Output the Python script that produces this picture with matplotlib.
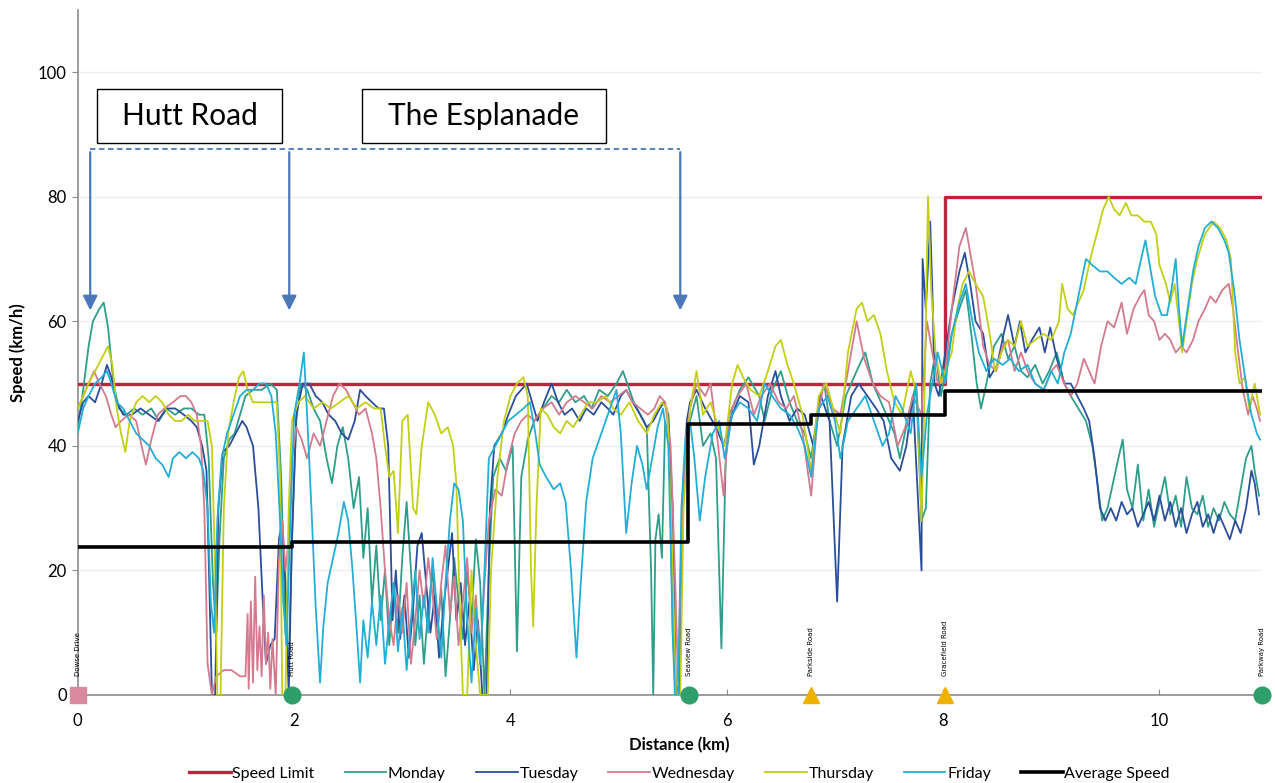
import matplotlib
matplotlib.use("Agg")
import matplotlib.pyplot as plt
from matplotlib.patches import Rectangle

plt.rcParams['font.family'] = ['Lato', 'DejaVu Sans']

# ---------------- data ----------------
speed_limit_km = [0.0, 8.02, 8.02, 10.95]
speed_limit_kmh = [50, 50, 80, 80]

average_km = [0.0, 1.98, 1.98, 5.64, 5.64, 6.78, 6.78, 8.02, 8.02, 10.95]
average_kmh = [23.7, 23.7, 24.6, 24.6, 43.5, 43.5, 45.0, 45.0, 48.8, 48.8]

monday = [
    (0.00, 43), (0.05, 49), (0.10, 56), (0.14, 60), (0.20, 62), (0.24, 63), (0.28, 59), (0.33, 50),
    (0.38, 46), (0.45, 45), (0.52, 46), (0.60, 45), (0.68, 46), (0.75, 44), (0.82, 46), (0.90, 45),
    (0.98, 46), (1.05, 46), (1.12, 45), (1.17, 45), (1.21, 38), (1.25, 18), (1.28, 10), (1.31, 25),
    (1.35, 38), (1.40, 41), (1.45, 42), (1.50, 45), (1.55, 48), (1.62, 49), (1.70, 49), (1.78, 50),
    (1.84, 49), (1.88, 35), (1.92, 10), (1.95, 5), (1.98, 25), (2.02, 44), (2.06, 50), (2.12, 49),
    (2.18, 46), (2.24, 44), (2.30, 38), (2.35, 34), (2.40, 40), (2.45, 43), (2.50, 38), (2.55, 30),
    (2.60, 35), (2.64, 22), (2.68, 30), (2.72, 15), (2.76, 24), (2.80, 12), (2.84, 20), (2.88, 8),
    (2.92, 18), (2.96, 10), (3.00, 22), (3.04, 31), (3.08, 20), (3.12, 8), (3.16, 16), (3.20, 5),
    (3.24, 14), (3.28, 20), (3.32, 9), (3.36, 17), (3.40, 3), (3.44, 12), (3.48, 22), (3.52, 15),
    (3.56, 9), (3.60, 20), (3.64, 12), (3.68, 25), (3.72, 18), (3.76, 0), (3.80, 20), (3.84, 35),
    (3.90, 38), (3.96, 36), (4.02, 40), (4.06, 7), (4.10, 35), (4.16, 41), (4.22, 44), (4.30, 46),
    (4.38, 48), (4.45, 47), (4.52, 49), (4.60, 47), (4.68, 48), (4.75, 46), (4.82, 49), (4.90, 48),
    (4.98, 50), (5.04, 52), (5.08, 50), (5.14, 47), (5.20, 45), (5.26, 43), (5.30, 20), (5.32, 0),
    (5.34, 25), (5.37, 29), (5.40, 22), (5.43, 44), (5.47, 40), (5.50, 10), (5.53, 0), (5.56, 2),
    (5.60, 35), (5.66, 44), (5.72, 48), (5.78, 40), (5.85, 42), (5.90, 38), (5.95, 7.5), (5.99, 38),
    (6.05, 46), (6.12, 49), (6.20, 51), (6.30, 48), (6.35, 44), (6.42, 49), (6.50, 52), (6.58, 47),
    (6.65, 44), (6.72, 42), (6.78, 38), (6.85, 47), (6.90, 50), (6.95, 44), (7.02, 40), (7.10, 48),
    (7.20, 52), (7.28, 55), (7.35, 50), (7.45, 46), (7.55, 42), (7.60, 38), (7.68, 45), (7.75, 50),
    (7.80, 28), (7.84, 30), (7.88, 50), (7.93, 55), (7.98, 48), (8.02, 52), (8.08, 58), (8.15, 62),
    (8.21, 65), (8.26, 58), (8.31, 50), (8.35, 46), (8.40, 50), (8.47, 56), (8.54, 58), (8.60, 54),
    (8.66, 56), (8.72, 52), (8.78, 51), (8.85, 53), (8.92, 50), (8.98, 52), (9.05, 55), (9.12, 50),
    (9.18, 48), (9.25, 46), (9.32, 44), (9.38, 40), (9.42, 35), (9.47, 28), (9.52, 30), (9.57, 34),
    (9.62, 38), (9.66, 41), (9.70, 33), (9.75, 30), (9.80, 37), (9.85, 28), (9.90, 33), (9.95, 27),
    (10.00, 31), (10.05, 35), (10.10, 29), (10.15, 32), (10.20, 27), (10.25, 35), (10.30, 30),
    (10.35, 29), (10.40, 32), (10.45, 27), (10.50, 30), (10.55, 28), (10.60, 31), (10.65, 29),
    (10.70, 28), (10.75, 33), (10.80, 38), (10.85, 40), (10.88, 36), (10.92, 32),
]

tuesday = [
    (0.00, 44), (0.05, 47), (0.10, 48), (0.16, 47), (0.22, 50), (0.27, 53), (0.31, 51), (0.36, 47),
    (0.42, 45), (0.50, 45), (0.58, 46), (0.66, 45), (0.74, 44), (0.82, 46), (0.90, 46), (0.98, 45),
    (1.05, 44), (1.10, 43), (1.15, 40), (1.19, 36), (1.22, 15), (1.24, 0), (1.27, 0), (1.30, 30),
    (1.34, 39), (1.40, 40), (1.46, 42), (1.52, 44), (1.56, 43), (1.62, 40), (1.67, 30), (1.71, 15),
    (1.74, 5), (1.78, 8), (1.82, 9), (1.86, 25), (1.89, 28), (1.92, 18), (1.95, 0), (1.98, 25),
    (2.02, 45), (2.08, 50), (2.14, 50), (2.20, 48), (2.26, 47), (2.32, 45), (2.38, 44), (2.44, 42),
    (2.50, 41), (2.56, 44), (2.61, 49), (2.66, 48), (2.72, 47), (2.78, 46), (2.83, 46), (2.87, 40),
    (2.91, 12), (2.94, 20), (2.98, 9), (3.02, 16), (3.06, 6), (3.10, 14), (3.14, 24), (3.18, 26),
    (3.22, 18), (3.26, 10), (3.30, 16), (3.34, 6), (3.38, 14), (3.42, 20), (3.46, 26), (3.50, 12),
    (3.54, 18), (3.58, 8), (3.62, 15), (3.66, 4), (3.70, 12), (3.74, 0), (3.78, 0), (3.81, 30),
    (3.85, 40), (3.92, 42), (3.98, 45), (4.05, 48), (4.10, 49), (4.15, 50), (4.20, 47), (4.25, 44),
    (4.31, 47), (4.38, 50), (4.44, 47), (4.50, 45), (4.57, 46), (4.64, 44), (4.70, 46), (4.77, 45),
    (4.84, 47), (4.90, 46), (4.95, 45), (5.02, 48), (5.07, 49), (5.13, 47), (5.20, 45), (5.26, 43),
    (5.32, 44), (5.38, 46), (5.42, 47), (5.46, 45), (5.50, 30), (5.53, 0), (5.56, 0), (5.59, 30),
    (5.63, 44), (5.66, 47), (5.72, 49), (5.80, 46), (5.90, 43), (5.97, 40), (6.05, 45), (6.12, 48),
    (6.20, 47), (6.25, 37), (6.30, 40), (6.38, 48), (6.45, 52), (6.50, 48), (6.58, 44), (6.65, 46),
    (6.72, 45), (6.80, 40), (6.87, 48), (6.95, 44), (7.02, 15), (7.07, 40), (7.15, 48), (7.22, 50),
    (7.30, 48), (7.38, 46), (7.45, 44), (7.52, 38), (7.60, 36), (7.66, 40), (7.72, 48), (7.80, 20),
    (7.81, 70), (7.84, 62), (7.88, 76), (7.90, 65), (7.92, 50), (7.96, 48), (8.02, 55), (8.08, 62),
    (8.15, 68), (8.20, 71), (8.25, 66), (8.30, 60), (8.37, 58), (8.43, 51), (8.50, 53), (8.56, 58),
    (8.60, 61), (8.66, 56), (8.71, 60), (8.76, 55), (8.82, 57), (8.89, 59), (8.94, 55), (8.99, 59),
    (9.05, 54), (9.12, 50), (9.18, 50), (9.24, 48), (9.30, 46), (9.35, 44), (9.40, 38), (9.45, 30),
    (9.50, 28), (9.55, 30), (9.60, 28), (9.65, 31), (9.70, 29), (9.75, 30), (9.80, 27), (9.85, 29),
    (9.90, 31), (9.95, 28), (10.00, 32), (10.05, 28), (10.10, 31), (10.15, 27), (10.20, 30),
    (10.25, 26), (10.30, 29), (10.35, 31), (10.40, 27), (10.45, 29), (10.50, 26), (10.55, 29),
    (10.60, 27), (10.65, 25), (10.70, 28), (10.75, 26), (10.80, 30), (10.85, 36), (10.88, 34),
    (10.92, 29),
]

wednesday = [
    (0.00, 46), (0.05, 48), (0.10, 50), (0.15, 52), (0.20, 50), (0.26, 48), (0.31, 45), (0.35, 43),
    (0.40, 44), (0.47, 45), (0.54, 44), (0.59, 40), (0.63, 37), (0.68, 41), (0.74, 45), (0.80, 46),
    (0.88, 47), (0.95, 48), (1.00, 48), (1.05, 47), (1.10, 45), (1.14, 40), (1.17, 30), (1.20, 5),
    (1.24, 0), (1.28, 3), (1.35, 4), (1.42, 4), (1.50, 3), (1.55, 3), (1.57, 13), (1.58, 1),
    (1.60, 15), (1.62, 2), (1.64, 19), (1.66, 4), (1.68, 11), (1.70, 3), (1.72, 16), (1.74, 5),
    (1.76, 10), (1.78, 1), (1.80, 9), (1.83, 0), (1.86, 22), (1.89, 28), (1.92, 20), (1.95, 25),
    (1.98, 38), (2.02, 43), (2.07, 41), (2.12, 38), (2.18, 42), (2.24, 40), (2.30, 44), (2.36, 48),
    (2.42, 50), (2.48, 49), (2.54, 47), (2.60, 45), (2.66, 46), (2.72, 42), (2.76, 38), (2.80, 30),
    (2.84, 20), (2.88, 12), (2.92, 8), (2.96, 16), (3.00, 10), (3.04, 18), (3.08, 5), (3.12, 12),
    (3.16, 20), (3.20, 14), (3.24, 22), (3.28, 16), (3.32, 9), (3.36, 18), (3.40, 24), (3.44, 13),
    (3.48, 19), (3.52, 8), (3.56, 15), (3.60, 22), (3.64, 10), (3.68, 16), (3.72, 5), (3.76, 18),
    (3.80, 28), (3.86, 33), (3.92, 32), (3.98, 38), (4.04, 42), (4.10, 44), (4.16, 45), (4.22, 44),
    (4.30, 46), (4.38, 47), (4.45, 45), (4.52, 47), (4.60, 48), (4.68, 47), (4.76, 46), (4.84, 48),
    (4.92, 47), (5.00, 48), (5.07, 49), (5.13, 47), (5.20, 46), (5.27, 45), (5.33, 46), (5.38, 48),
    (5.43, 47), (5.48, 40), (5.52, 20), (5.55, 2), (5.58, 25), (5.63, 42), (5.66, 46), (5.72, 50),
    (5.80, 48), (5.85, 50), (5.92, 40), (5.97, 32), (6.02, 45), (6.10, 48), (6.18, 50), (6.25, 45),
    (6.32, 48), (6.40, 50), (6.48, 47), (6.55, 46), (6.62, 48), (6.70, 42), (6.78, 32), (6.84, 45),
    (6.90, 50), (6.98, 46), (7.05, 45), (7.12, 52), (7.20, 60), (7.27, 54), (7.35, 50), (7.42, 48),
    (7.50, 47), (7.58, 40), (7.65, 43), (7.72, 48), (7.80, 45), (7.85, 60), (7.90, 55), (7.95, 50),
    (8.02, 52), (8.08, 62), (8.15, 72), (8.21, 75), (8.26, 70), (8.30, 66), (8.37, 56), (8.43, 53),
    (8.49, 52), (8.55, 56), (8.60, 57), (8.66, 52), (8.72, 55), (8.78, 52), (8.85, 50), (8.93, 49),
    (9.00, 52), (9.05, 53), (9.12, 50), (9.18, 48), (9.24, 50), (9.30, 54), (9.35, 52), (9.40, 50),
    (9.46, 56), (9.52, 60), (9.58, 59), (9.65, 63), (9.70, 58), (9.76, 62), (9.82, 64), (9.86, 65),
    (9.90, 61), (9.95, 60), (10.00, 57), (10.05, 58), (10.10, 57), (10.15, 55), (10.20, 56),
    (10.25, 55), (10.31, 57), (10.36, 60), (10.42, 62), (10.47, 64), (10.52, 63), (10.58, 65),
    (10.64, 66), (10.68, 62), (10.72, 56), (10.77, 49), (10.82, 45), (10.86, 48), (10.90, 46),
    (10.93, 44),
]

thursday = [
    (0.00, 46), (0.05, 48), (0.10, 50), (0.16, 52), (0.22, 54), (0.28, 56), (0.32, 53), (0.36, 46),
    (0.40, 42), (0.44, 39), (0.48, 44), (0.54, 47), (0.60, 48), (0.66, 47), (0.72, 48), (0.78, 47),
    (0.84, 45), (0.90, 44), (0.96, 44), (1.02, 45), (1.08, 44), (1.14, 44), (1.20, 44), (1.24, 40),
    (1.27, 20), (1.29, 0), (1.32, 0), (1.35, 30), (1.39, 42), (1.44, 47), (1.49, 51), (1.53, 52),
    (1.57, 49), (1.62, 47), (1.70, 47), (1.78, 47), (1.84, 47), (1.87, 35), (1.89, 0), (1.92, 0),
    (1.95, 30), (1.98, 44), (2.04, 47), (2.10, 48), (2.18, 46), (2.26, 47), (2.34, 46), (2.42, 47),
    (2.50, 48), (2.58, 46), (2.66, 47), (2.74, 46), (2.80, 46), (2.84, 40), (2.88, 35), (2.92, 36),
    (2.96, 26), (3.00, 44), (3.05, 45), (3.10, 30), (3.13, 29), (3.18, 40), (3.24, 47), (3.30, 45),
    (3.36, 42), (3.42, 43), (3.47, 40), (3.50, 34), (3.53, 15), (3.56, 0), (3.60, 0), (3.64, 20),
    (3.68, 8), (3.72, 0), (3.76, 0), (3.79, 0), (3.82, 20), (3.88, 35), (3.94, 44), (4.00, 48),
    (4.06, 50), (4.12, 51), (4.16, 48), (4.19, 20), (4.21, 11), (4.24, 30), (4.28, 46), (4.34, 45),
    (4.40, 43), (4.46, 42), (4.52, 44), (4.58, 43), (4.65, 45), (4.72, 47), (4.80, 47), (4.88, 48),
    (4.95, 46), (5.02, 45), (5.10, 47), (5.18, 44), (5.26, 42), (5.33, 45), (5.40, 47), (5.45, 46),
    (5.50, 20), (5.53, 0), (5.57, 0), (5.60, 30), (5.64, 40), (5.66, 46), (5.72, 52), (5.78, 45),
    (5.85, 47), (5.92, 43), (5.98, 40), (6.05, 50), (6.10, 53), (6.15, 51), (6.22, 49), (6.30, 48),
    (6.38, 52), (6.45, 56), (6.50, 57), (6.56, 53), (6.62, 50), (6.70, 45), (6.78, 36), (6.85, 48),
    (6.92, 50), (7.00, 45), (7.05, 42), (7.12, 55), (7.20, 62), (7.25, 63), (7.30, 60), (7.36, 61),
    (7.42, 58), (7.48, 52), (7.55, 47), (7.62, 45), (7.70, 52), (7.76, 48), (7.80, 28), (7.83, 50),
    (7.86, 80), (7.89, 65), (7.93, 55), (7.98, 50), (8.02, 52), (8.08, 55), (8.13, 62), (8.18, 66),
    (8.24, 68), (8.30, 66), (8.37, 64), (8.43, 58), (8.48, 52), (8.54, 55), (8.60, 57), (8.66, 56),
    (8.72, 60), (8.78, 56), (8.85, 57), (8.93, 58), (9.00, 57), (9.07, 60), (9.10, 66), (9.15, 62),
    (9.20, 61), (9.30, 65), (9.36, 70), (9.42, 74), (9.48, 78), (9.53, 80), (9.58, 78), (9.63, 77),
    (9.69, 79), (9.74, 77), (9.80, 77), (9.86, 76), (9.92, 76), (9.97, 74), (10.00, 69),
    (10.06, 66), (10.10, 63), (10.14, 66), (10.18, 60), (10.21, 55), (10.25, 60), (10.30, 66),
    (10.35, 70), (10.42, 74), (10.50, 76), (10.56, 75), (10.62, 73), (10.66, 70), (10.70, 55),
    (10.74, 50), (10.79, 51), (10.83, 46), (10.88, 50), (10.93, 45),
]

friday = [
    (0.00, 42), (0.05, 46), (0.10, 48), (0.16, 50), (0.22, 51), (0.27, 52), (0.31, 50), (0.36, 47),
    (0.42, 46), (0.48, 44), (0.54, 42), (0.60, 41), (0.66, 40), (0.72, 38), (0.78, 37), (0.84, 35),
    (0.88, 38), (0.94, 39), (1.00, 38), (1.06, 39), (1.12, 38), (1.16, 36), (1.20, 30), (1.23, 15),
    (1.26, 10), (1.29, 28), (1.33, 38), (1.38, 42), (1.44, 45), (1.50, 48), (1.56, 49), (1.62, 49),
    (1.68, 50), (1.74, 50), (1.79, 48), (1.83, 42), (1.87, 28), (1.90, 15), (1.93, 8), (1.96, 25),
    (2.00, 45), (2.05, 50), (2.09, 55), (2.12, 45), (2.16, 30), (2.20, 14), (2.24, 2), (2.27, 11),
    (2.31, 18), (2.36, 22), (2.41, 26), (2.46, 31), (2.50, 28), (2.54, 20), (2.58, 10), (2.61, 2),
    (2.64, 12), (2.68, 6), (2.72, 15), (2.76, 8), (2.80, 16), (2.84, 5), (2.88, 12), (2.92, 18),
    (2.96, 7), (3.00, 14), (3.04, 4), (3.08, 12), (3.12, 20), (3.16, 9), (3.20, 16), (3.24, 10),
    (3.28, 22), (3.32, 14), (3.36, 6), (3.40, 18), (3.44, 28), (3.48, 34), (3.52, 33), (3.56, 28),
    (3.60, 12), (3.64, 2), (3.68, 14), (3.72, 5), (3.76, 20), (3.80, 38), (3.86, 40), (3.92, 42),
    (3.98, 44), (4.05, 45), (4.12, 46), (4.18, 47), (4.23, 42), (4.27, 37), (4.33, 35), (4.40, 33),
    (4.46, 34), (4.51, 31), (4.56, 20), (4.61, 6), (4.65, 18), (4.70, 31), (4.76, 38), (4.82, 41),
    (4.88, 44), (4.94, 47), (4.98, 49), (5.02, 42), (5.07, 26), (5.12, 34), (5.17, 40), (5.22, 37),
    (5.26, 33), (5.31, 38), (5.36, 43), (5.41, 46), (5.46, 40), (5.50, 10), (5.52, 0), (5.55, 0),
    (5.58, 30), (5.62, 42), (5.66, 44), (5.70, 38), (5.75, 28), (5.80, 35), (5.87, 42), (5.93, 44),
    (5.98, 38), (6.05, 45), (6.12, 47), (6.20, 46), (6.28, 44), (6.35, 50), (6.42, 48), (6.50, 46),
    (6.58, 45), (6.65, 43), (6.72, 40), (6.78, 35), (6.85, 46), (6.93, 48), (7.00, 44), (7.05, 38),
    (7.12, 44), (7.20, 46), (7.28, 48), (7.36, 44), (7.44, 40), (7.50, 42), (7.56, 48), (7.62, 46),
    (7.70, 42), (7.75, 50), (7.80, 35), (7.85, 45), (7.90, 50), (7.95, 55), (8.02, 50), (8.08, 58),
    (8.15, 63), (8.21, 66), (8.27, 60), (8.33, 55), (8.40, 52), (8.47, 54), (8.55, 53), (8.62, 54),
    (8.70, 52), (8.78, 53), (8.85, 50), (8.93, 49), (9.00, 52), (9.06, 50), (9.12, 55), (9.18, 58),
    (9.25, 64), (9.32, 70), (9.38, 69), (9.45, 68), (9.52, 68), (9.58, 67), (9.65, 66), (9.72, 67),
    (9.78, 66), (9.83, 70), (9.87, 73), (9.92, 68), (9.96, 64), (10.02, 61), (10.07, 61),
    (10.11, 65), (10.15, 70), (10.18, 62), (10.21, 56), (10.26, 62), (10.31, 68), (10.36, 72),
    (10.42, 75), (10.48, 76), (10.54, 75), (10.60, 73), (10.64, 71), (10.69, 65), (10.74, 57),
    (10.80, 50), (10.85, 45), (10.90, 42), (10.93, 41),
]

series_names = ["Monday", "Tuesday", "Wednesday", "Thursday", "Friday"]
series_data = [monday, tuesday, wednesday, thursday, friday]
series_colors = ["#2E9E8A", "#2B4E9B", "#D47A8E", "#C3CF14", "#22AED6"]

road_names = ["Dowse Drive", "Hutt Road", "Seaview Road", "Parkside Road", "Gracefield Road", "Parkway Road"]
road_km = [0.0, 1.98, 5.65, 6.78, 8.02, 10.95]
road_markers = ["s", "o", "o", "^", "^", "o"]
road_colors = ["#D98A9E", "#2E9E6A", "#2E9E6A", "#F0B000", "#F0B000", "#2E9E6A"]

section_labels = ["Hutt Road", "The Esplanade"]
section_boxes = [(0.18, 1.89), (2.63, 4.88)]
arrow_km = [0.115, 1.955, 5.57]

# ---------------- figure ----------------
fig = plt.figure(figsize=(12.75, 7.83), dpi=100)
ax = fig.add_axes([0.061, 0.1124, 0.929, 0.875])

ax.plot(speed_limit_km, speed_limit_kmh, color="#C0243C", lw=2.4, label="Speed Limit", zorder=3)
for name, data, col in zip(series_names, series_data, series_colors):
    xs = [p[0] for p in data]
    ys = [p[1] for p in data]
    ax.plot(xs, ys, color=col, lw=1.3, label=name, zorder=4)
ax.plot(average_km, average_kmh, color="black", lw=2.6, label="Average Speed", zorder=6)

# road markers and labels
for nm, xk, mk, c in zip(road_names, road_km, road_markers, road_colors):
    ax.plot([xk], [0], marker=mk, color=c, markersize=12, clip_on=False, zorder=7, ls="none")
    ax.text(xk, 3.0, nm, rotation=90, fontsize=5, ha="center", va="bottom",
            family="DejaVu Sans", zorder=7)

# section boxes
for lbl, (x0, x1) in zip(section_labels, section_boxes):
    ax.add_patch(Rectangle((x0, 88.6), x1 - x0, 8.7, fill=True, facecolor="white",
                           edgecolor="black", lw=1.0, zorder=8))
    ax.text((x0 + x1) / 2, 93.0, lbl, ha="center", va="center", fontsize=21.5, zorder=9)

arrow_col = "#4A78B8"
ax.plot([arrow_km[0], arrow_km[-1]], [87.6, 87.6], ls=(0, (3, 2)), color=arrow_col, lw=1.3, zorder=8)
for xa in arrow_km:
    ax.annotate("", xy=(xa, 61.3), xytext=(xa, 87.6),
                arrowprops=dict(arrowstyle="-|>", color=arrow_col, lw=1.6, mutation_scale=22),
                zorder=8)

# axes styling
ax.set_xlim(0, 10.95)
ax.set_ylim(0, 110)
ax.set_yticks([0, 20, 40, 60, 80, 100])
ax.set_xticks([0, 2, 4, 6, 8, 10])
for y in [20, 40, 60, 80, 100]:
    ax.axhline(y, color="#EEEEEE", lw=1.0, zorder=0)
for s in ["top", "right"]:
    ax.spines[s].set_visible(False)
for s in ["left", "bottom"]:
    ax.spines[s].set_color("#8C8C8C")
    ax.spines[s].set_linewidth(1.2)
ax.tick_params(axis="y", length=4, color="#8C8C8C", labelsize=12, pad=4)
ax.tick_params(axis="x", length=4, direction="in", color="#8C8C8C", labelsize=12, pad=13)
ax.set_ylabel("Speed (km/h)", fontsize=12, fontweight="bold")
ax.yaxis.set_label_coords(-0.044, 0.5)
ax.set_xlabel("Distance (km)", fontsize=12, fontweight="bold")
ax.xaxis.set_label_coords(0.508, -0.062)

handles, labels = ax.get_legend_handles_labels()
ax.legend(handles, labels, loc="upper center", bbox_to_anchor=(0.508, -0.088), ncol=7,
          frameon=False, fontsize=11.5, handlelength=2.6, handletextpad=0.1, columnspacing=1.9,
          borderpad=0.2)

fig.savefig("out.png", dpi=100)
